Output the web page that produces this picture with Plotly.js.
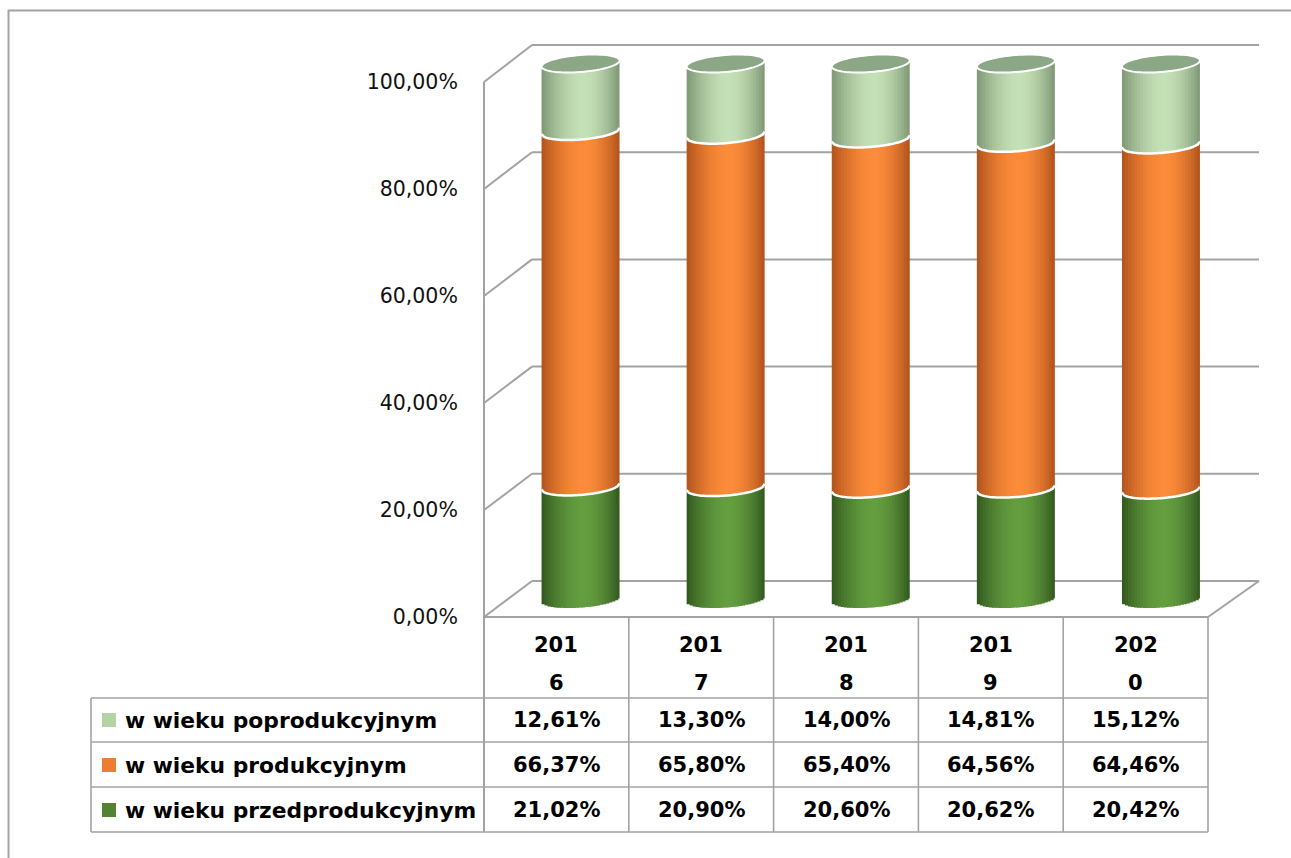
<!DOCTYPE html>
<html><head><meta charset="utf-8">
<script src="https://cdn.plot.ly/plotly-3.0.1.min.js"></script>
<style>html,body{margin:0;padding:0;background:#fff}</style>
</head><body><div id="chart" style="width:1291px;height:858px"></div>
<script>
// ---- data ----
const years = ['2016', '2017', '2018', '2019', '2020'];
const seriesNames = ['w wieku przedprodukcyjnym', 'w wieku produkcyjnym', 'w wieku poprodukcyjnym'];
const przed = [21.02, 20.90, 20.60, 20.62, 20.42];
const prod = [66.37, 65.80, 65.40, 64.56, 64.46];
const popro = [12.61, 13.30, 14.00, 14.81, 15.12];
const yTicks = [0, 20, 40, 60, 80, 100];

// ---- styles ----
const W = 1291, H = 858;
const FONT = 'DejaVu Sans';
const seriesData = [przed, prod, popro];
const brightCols = [[100, 158, 64], [252, 140, 58], [196, 224, 182]];
const darkCols = [[50, 88, 30], [176, 82, 28], [126, 150, 116]];
const legendCols = ['#548235', '#ED7D31', '#B4D3A4'];
const topCol = '#8ca785';
const lineCol = '#a3a3a3';

const px = p => p / W;
const py = p => 1 - p / H;
const fmt = v => v.toFixed(2).replace('.', ',') + '%';

// geometry (pixels)
const FX0 = 484, FX1 = 1208, FY0 = 617, FY100 = 82;    // front plane
const BX0 = 532, BX1 = 1259, BY0 = 581, BY100 = 45;    // back wall
const MX0 = (FX0 + BX0) / 2, MX1 = (FX1 + BX1) / 2;
const MY0 = (FY0 + BY0) / 2, MY100 = (FY100 + BY100) / 2;
const sPerUnit = (MY0 - MY100) / 100;
const catPx = (MX1 - MX0) / years.length;
const hw = 39 / catPx;           // half cylinder width (x units)
const ry = 8.5 / sPerUnit;       // ellipse half height (y units)
const tilt = 3 / sPerUnit;
const yPad = 6;

const off = u => -ry * Math.sqrt(Math.max(0, 1 - u * u)) + tilt * u;
function shade(si, u) {
  const u0 = 0.08;
  const d = u < u0 ? (u0 - u) / (1 + u0) : (u - u0) / (1 - u0);
  const t = 1 - Math.pow(Math.min(1, d), 1.8);
  const c = darkCols[si].map((dv, j) => Math.round(dv + (brightCols[si][j] - dv) * t));
  return 'rgb(' + c.join(',') + ')';
}

const xIdx = years.map((_, i) => i);
const lowers = [przed.map(() => 0), przed.slice(), przed.map((v, i) => v + prod[i])];
const tops = przed.map((v, i) => v + prod[i] + popro[i]);

const traces = [];
const N = 26;
const sw = 2 * hw / N;
for (let si = 0; si < 3; si++) {
  for (let k = 0; k < N; k++) {
    const uc = -1 + (2 * k + 1) / N;
    traces.push({
      type: 'bar', x: xIdx, y: seriesData[si],
      base: lowers[si].map(b => b + off(uc)),
      offset: -hw + k * sw, width: k === N - 1 ? sw : sw * 1.6,
      marker: {color: shade(si, uc), line: {width: 0}},
      hoverinfo: 'skip', showlegend: false
    });
  }
}
// invisible trace holding the front axis / table axis
traces.push({type: 'scatter', x: xIdx, y: popro, xaxis: 'x2', yaxis: 'y2', mode: 'markers',
  marker: {opacity: 0}, hoverinfo: 'skip', showlegend: false});

const shapes = [];
const line = (x0, y0, x1, y1, w, layer) => shapes.push({type: 'line', xref: 'paper', yref: 'paper',
  x0: px(x0), y0: py(y0), x1: px(x1), y1: py(y1), line: {color: lineCol, width: w || 2}, layer: layer || 'below'});

// walls
yTicks.forEach(v => {
  const fy = FY0 - v * (FY0 - FY100) / 100;
  const by = BY0 - v * (BY0 - BY100) / 100;
  line(FX0, fy, BX0, by);
  line(BX0, by, BX1, by);
});
line(FX0, FY0, FX1, FY0);
line(FX1, FY0, BX1, BY0);
line(FX0, FY100, FX0, 832);

// table lines
const tableRows = [698, 742, 787, 832];
tableRows.forEach(y => line(91, y, FX1, y, 1.6));
line(91, 698, 91, 832, 1.6);
for (let c = 1; c <= years.length; c++) {
  const x = FX0 + c * (FX1 - FX0) / years.length;
  line(x, FY0, x, 832, 1.6);
}
line(8.5, 10, 8.5, H, 2);
line(8, 10.5, W, 10.5, 2);

// cylinder boundary arcs and top ellipses
const arcPts = 36;
xIdx.forEach(i => {
  [lowers[1][i], lowers[2][i]].forEach(b => {
    let p = '';
    for (let j = 0; j <= arcPts; j++) {
      const u = -1 + 2 * j / arcPts;
      p += (j ? ' L' : 'M') + (i + hw * u) + ',' + (b + off(u));
    }
    shapes.push({type: 'path', xref: 'x', yref: 'y', path: p, line: {color: 'white', width: 2.5}});
  });
  let p = '';
  for (let j = 0; j <= 72; j++) {
    const th = 2 * Math.PI * j / 72;
    const u = Math.cos(th);
    p += (j ? ' L' : 'M') + (i + hw * u) + ',' + (tops[i] + ry * Math.sin(th) + tilt * u);
  }
  shapes.push({type: 'path', xref: 'x', yref: 'y', path: p + ' Z', fillcolor: topCol, line: {color: 'white', width: 2}});
});

// legend squares in the table
const rowCenters = [720, 765, 810];
const rowSeries = [2, 1, 0];
rowSeries.forEach((si, r) => {
  shapes.push({type: 'rect', xref: 'paper', yref: 'paper', x0: px(102), x1: px(116),
    y0: py(rowCenters[r] + 7), y1: py(rowCenters[r] - 7), fillcolor: legendCols[si], line: {width: 0}});
});

const annotations = [];
const tf = {family: FONT, size: 21, color: '#000'};
const ann = (xref, x, y, text, font, xanchor) => annotations.push({xref: xref, yref: 'paper', x: x, y: py(y),
  text: '<b>' + text + '</b>', showarrow: false, font: font, xanchor: xanchor || 'center', yanchor: 'middle'});
years.forEach((yr, i) => {
  ann('x2', i, 645, yr.slice(0, 3), tf);
  ann('x2', i, 683, yr.slice(3), tf);
  rowSeries.forEach((si, r) => ann('x2', i, rowCenters[r], fmt(seriesData[si][i]), tf));
});
rowSeries.forEach((si, r) => ann('paper', px(123), rowCenters[r], seriesNames[si],
  {family: FONT, size: 21.8, color: '#000'}, 'left'));

const layout = {
  width: W, height: H, margin: {l: 0, r: 0, t: 0, b: 0},
  paper_bgcolor: '#fff', plot_bgcolor: 'rgba(0,0,0,0)',
  barmode: 'overlay', showlegend: false,
  xaxis: {domain: [px(MX0), px(MX1)], range: [-0.5, years.length - 0.5], visible: false, fixedrange: true},
  yaxis: {domain: [py(MY0 + yPad * sPerUnit), py(MY100 - yPad * sPerUnit)], range: [-yPad, 100 + yPad], visible: false, fixedrange: true},
  xaxis2: {domain: [px(FX0), px(FX1)], range: [-0.5, years.length - 0.5], anchor: 'y2', visible: false, fixedrange: true},
  yaxis2: {domain: [py(FY0), py(FY100)], range: [0, 100], anchor: 'free', position: px(FX0),
    tickvals: yTicks, ticktext: yTicks.map(fmt), showgrid: false, zeroline: false, showline: false,
    ticks: 'outside', ticklen: 22, tickcolor: 'rgba(0,0,0,0)',
    tickfont: {family: FONT, size: 20.5, color: '#111'}, fixedrange: true},
  shapes: shapes, annotations: annotations
};
Plotly.newPlot('chart', traces, layout, {displayModeBar: false, staticPlot: true});
</script></body></html>
